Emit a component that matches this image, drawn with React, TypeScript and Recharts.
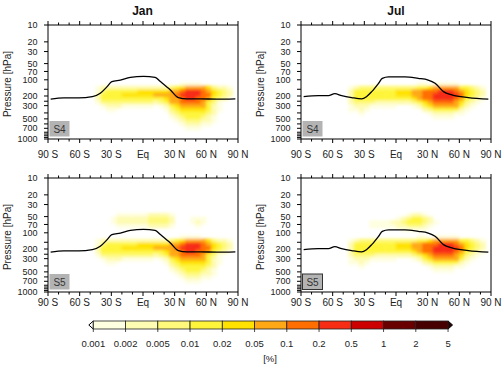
import React from "react";
import { ComposedChart, Scatter, Line, XAxis, YAxis } from "recharts";

const FONT = '"Liberation Sans", Arial, Helvetica, sans-serif';

/* ---------- Data ---------- */

// colour classes in %, lower bound of every class of the shading
const classLabels = ["0.001", "0.002", "0.005", "0.01", "0.02", "0.05", "0.1", "0.2", "0.5", "1", "2", "5"];
// 0 = below 0.001, 1..11 = the bar segments, 12 = above 5
const classColors = [
  "#ffffff", "#fefee0", "#fefbb2", "#fef97a", "#fef53a", "#ffe200",
  "#ffa816", "#ff6e00", "#f72c14", "#cc0000", "#680000", "#460000", "#2a0000",
];

// latitude bins (5 deg) and height rows (km) of the shading grid
const latCentres = [
  -87.5, -82.5, -77.5, -72.5, -67.5, -62.5, -57.5, -52.5, -47.5, -42.5, -37.5, -32.5,
  -27.5, -22.5, -17.5, -12.5, -7.5, -2.5, 2.5, 7.5, 12.5, 17.5, 22.5, 27.5,
  32.5, 37.5, 42.5, 47.5, 52.5, 57.5, 62.5, 67.5, 72.5, 77.5, 82.5, 87.5,
];
const rowHeightsKm = [21, 20, 19, 18, 17, 16, 15, 14, 13, 12, 11, 10, 9, 8, 7, 6, 5, 4, 3];

const latTicks = [-90, -80, -70, -60, -50, -40, -30, -20, -10, 0, 10, 20, 30, 40, 50, 60, 70, 80, 90];
const presTicks = [10, 20, 30, 50, 70, 100, 150, 200, 250, 300, 400, 500, 600, 700, 800, 850, 900, 950, 1000];
const presLabelled = [10, 20, 30, 50, 70, 100, 200, 300, 500, 700, 1000];

// class index per cell, one string per height row (21 km at top), 6 groups of 30 deg
const Z = "000000 000000 000000 000000 000000 000000";

const janMain = [
  "000000 000000 000000 000000 011110 000000",
  "000000 000122 222222 222223 456666 532210",
  "000000 000134 444445 555556 678887 654320",
  "000000 000244 445555 556666 788887 754320",
  "000000 000244 444444 444456 678877 643200",
  "000000 000133 333333 332346 677776 431000",
  "000000 000012 221111 110124 566666 421000",
  "000000 000001 100000 000013 455555 421000",
  "000000 000000 000000 000002 344444 320000",
  "000000 000000 000000 000001 234443 210000",
  "000000 000000 000000 000000 123332 210000",
  "000000 000000 000000 000000 012221 100000",
  "000000 000000 000000 000000 001110 000000",
];

const julMain = [
  "000000 000000 000000 000011 011111 000000",
  "000000 000123 333333 333344 566666 443210",
  "000000 000244 444444 555667 778887 654320",
  "000000 000244 444444 555667 788888 754320",
  "000000 000244 444444 444567 788887 643210",
  "000000 000233 332222 222345 677776 532100",
  "000000 000122 211111 000124 566666 421000",
  "000000 000112 100000 000002 344444 210000",
  "000000 000001 000000 000000 122221 100000",
  "000000 000000 000000 000000 011110 000000",
  Z,
  Z,
  Z,
];

const janS4 = [Z, Z, Z, Z, Z, Z, ...janMain];
const julS4 = [Z, Z, Z, Z, Z, Z, ...julMain];
const janS5 = [
  "000000 000000 011111 122221 000000 000000",
  "000000 000000 122222 233332 000111 000000",
  "000000 000000 122222 233332 000121 000000",
  "000000 000000 011111 122221 000010 000000",
  Z,
  Z,
  ...janMain,
];
const julS5 = [
  "000000 000000 000000 001221 000000 000000",
  "000000 000000 000000 123443 200000 000000",
  "000000 000000 011112 234443 210000 000000",
  "000000 000000 011111 223332 100000 000000",
  "000000 000000 000000 011111 000000 000000",
  Z,
  ...julMain,
];

// tropopause pressure (hPa) along latitude
const tropJan = [
  { lat: -87.5, p: 229 }, { lat: -75, p: 217 }, { lat: -61, p: 217 }, { lat: -48, p: 206 },
  { lat: -40.5, p: 178 }, { lat: -34, p: 134 }, { lat: -29.5, p: 108 }, { lat: -21.5, p: 101 },
  { lat: -12, p: 90 }, { lat: 0.5, p: 86 }, { lat: 11.5, p: 90 }, { lat: 16.5, p: 108 },
  { lat: 26, p: 155 }, { lat: 33.5, p: 214 }, { lat: 41.5, p: 226 }, { lat: 54, p: 226 },
  { lat: 70, p: 229 }, { lat: 87.5, p: 226 },
];
const tropJul = [
  { lat: -87.5, p: 206 }, { lat: -73.5, p: 197 }, { lat: -64, p: 197 }, { lat: -58, p: 181 },
  { lat: -51.5, p: 197 }, { lat: -42, p: 214 }, { lat: -32.5, p: 226 }, { lat: -28, p: 206 },
  { lat: -23, p: 166 }, { lat: -16.5, p: 116 }, { lat: -13, p: 94 }, { lat: -7, p: 88 },
  { lat: 8.5, p: 88 }, { lat: 21, p: 94 }, { lat: 30.5, p: 101 }, { lat: 37, p: 116 },
  { lat: 45, p: 166 }, { lat: 53, p: 191 }, { lat: 68.5, p: 214 }, { lat: 87.5, p: 229 },
];

/* ---------- Vertical coordinate ---------- */

// standard atmosphere height (km) for a pressure level (hPa)
function heightOf(p: number) {
  if (p >= 226.32) return 44.331 * (1 - Math.pow(p / 1013.25, 0.190263));
  if (p >= 54.749) return 11 + 6.3416 * Math.log(226.32 / p);
  return 20 + 216.65 * (Math.pow(p / 54.749, -1 / 34.163) - 1);
}

const Z_BOTTOM = heightOf(1000);
const Z_TOP = heightOf(10);

const CHART_W = 252;
const CHART_H = 160;
const PLOT_W = 190;
const PLOT_H = 114;
const CELL_W = PLOT_W / latCentres.length;
const CELL_H = PLOT_H / (Z_TOP - Z_BOTTOM);

type Cell = { lat: number; z: number; level: number };

function buildCells(rows: string[]): Cell[] {
  const out: Cell[] = [];
  rows.forEach((row, r) => {
    const codes = row.replace(/ /g, "");
    for (let j = 0; j < codes.length; j++) {
      const level = Number(codes[j]);
      if (level > 0) out.push({ lat: latCentres[j], z: rowHeightsKm[r], level });
    }
  });
  return out;
}

/* ---------- Marks and ticks ---------- */

function HeatCell(props: any) {
  const { cx, cy, payload } = props;
  return (
    <rect
      x={cx - CELL_W / 2 - 0.3}
      y={cy - CELL_H / 2 - 0.3}
      width={CELL_W + 0.6}
      height={CELL_H + 0.6}
      fill={classColors[payload.level]}
    />
  );
}

function latLabel(v: number) {
  if (v === 0) return "Eq";
  return v < 0 ? `${-v} S` : `${v} N`;
}

function LatTick(props: any) {
  const { x, y, payload, gap, top } = props;
  const v = payload.value;
  const major = v % 30 === 0;
  const len = major ? 4 : 2.5;
  if (top) {
    return <line x1={x} x2={x} y1={y} y2={y - len} stroke="#000" strokeWidth={1} />;
  }
  return (
    <g>
      <line x1={x} x2={x} y1={y} y2={y + len} stroke="#000" strokeWidth={1} />
      {major && (
        <text x={x} y={y + gap} textAnchor="middle" fontSize={10} fill="#222" fontFamily={FONT}>
          {latLabel(v)}
        </text>
      )}
    </g>
  );
}

function PresTick(props: any) {
  const { x, y, payload } = props;
  const p = presTicks.find((t) => Math.abs(heightOf(t) - payload.value) < 1e-6);
  const labelled = p !== undefined && presLabelled.includes(p);
  return (
    <g>
      <line x1={x - 4} x2={x} y1={y} y2={y} stroke="#000" strokeWidth={1} />
      {labelled && (
        <text x={x - 10.5} y={y} dy="0.35em" textAnchor="end" fontSize={9} fill="#222" fontFamily={FONT}>
          {p}
        </text>
      )}
    </g>
  );
}

/* ---------- Panels ---------- */

type PanelCfg = {
  left: number;
  top: number;
  grid: string[];
  trop: { lat: number; p: number }[];
  labelGap: number;
};

const frameLine = { stroke: "#000", strokeWidth: 1 };

function Panel({ cfg }: { cfg: PanelCfg }) {
  const cells = buildCells(cfg.grid);
  const line = cfg.trop.map((d) => ({ lat: d.lat, z: heightOf(d.p) }));
  return (
    <div style={{ position: "absolute", left: cfg.left, top: cfg.top }}>
      <ComposedChart width={CHART_W} height={CHART_H} margin={{ top: 24, right: 13, bottom: 20, left: 8 }}>
        <XAxis
          dataKey="lat"
          type="number"
          domain={[-90, 90]}
          ticks={latTicks}
          interval={0}
          height={1}
          tickSize={0}
          tickMargin={0}
          axisLine={frameLine}
          tickLine={false}
          allowDataOverflow
          tick={(p: any) => <LatTick {...p} gap={cfg.labelGap} />}
        />
        <XAxis
          xAxisId="top"
          orientation="top"
          dataKey="lat"
          type="number"
          domain={[-90, 90]}
          ticks={latTicks}
          interval={0}
          height={1}
          tickSize={0}
          tickMargin={0}
          axisLine={frameLine}
          tickLine={false}
          allowDataOverflow
          tick={(p: any) => <LatTick {...p} top />}
        />
        <YAxis
          dataKey="z"
          type="number"
          domain={[Z_BOTTOM, Z_TOP]}
          ticks={presTicks.map(heightOf)}
          interval={0}
          width={40}
          tickSize={0}
          tickMargin={0}
          axisLine={frameLine}
          tickLine={false}
          allowDataOverflow
          tick={(p: any) => <PresTick {...p} />}
        />
        <YAxis
          yAxisId="right"
          orientation="right"
          type="number"
          domain={[Z_BOTTOM, Z_TOP]}
          width={1}
          tick={false}
          tickLine={false}
          axisLine={frameLine}
          allowDataOverflow
        />
        <Scatter data={cells} dataKey="z" shape={(p: any) => <HeatCell {...p} />} isAnimationActive={false} />
        <Line
          data={line}
          dataKey="z"
          type="monotone"
          stroke="#000"
          strokeWidth={1.3}
          dot={false}
          activeDot={false}
          isAnimationActive={false}
          zIndex={700}
        />
      </ComposedChart>
    </div>
  );
}

const panels: PanelCfg[] = [
  { left: 0, top: 0, grid: janS4, trop: tropJan, labelGap: 18.5 },
  { left: 253, top: 0, grid: julS4, trop: tropJul, labelGap: 18.5 },
  { left: 0, top: 153, grid: janS5, trop: tropJan, labelGap: 13.5 },
  { left: 253, top: 153, grid: julS5, trop: tropJul, labelGap: 13.5 },
];

const tags = [
  { x: 49.5, y: 121, text: "S4", border: false },
  { x: 302.5, y: 121, text: "S4", border: false },
  { x: 49.5, y: 274, text: "S5", border: false },
  { x: 302.5, y: 274, text: "S5", border: true },
];

const yTitles = [
  { x: 10.5, y: 84 },
  { x: 263.5, y: 84 },
  { x: 10.5, y: 237 },
  { x: 263.5, y: 237 },
];

/* ---------- Titles, tags and colour bar ---------- */

function Overlay() {
  const barX = 93.3;
  const segW = 32.25;
  const barY = 321;
  const barH = 8;
  const nSeg = classLabels.length - 1;
  const barEnd = barX + segW * nSeg;
  return (
    <svg width={504} height={374} style={{ position: "absolute", left: 0, top: 0 }} fontFamily={FONT}>
      <defs>
        <filter id="soften" x="-20%" y="-40%" width="140%" height="180%">
          <feGaussianBlur stdDeviation="1.6" />
        </filter>
      </defs>

      <text x={142.5} y={14.5} textAnchor="middle" fontSize={12} fontWeight="bold" fill="#111">Jan</text>
      <text x={396} y={14.5} textAnchor="middle" fontSize={12} fontWeight="bold" fill="#111">Jul</text>

      {yTitles.map((t, i) => (
        <text
          key={i}
          x={t.x}
          y={t.y}
          transform={`rotate(-90 ${t.x} ${t.y})`}
          textAnchor="middle"
          fontSize={10}
          fill="#222"
        >
          Pressure [hPa]
        </text>
      ))}

      {tags.map((t, i) => (
        <g key={i}>
          <rect
            x={t.x}
            y={t.y}
            width={20}
            height={15.5}
            fill="#b3b3b3"
            stroke={t.border ? "#333" : "none"}
            strokeWidth={1}
          />
          <text x={t.x + 10} y={t.y + 11.5} textAnchor="middle" fontSize={10} fill="#333">{t.text}</text>
        </g>
      ))}

      {/* colour bar */}
      <polygon
        points={`${barX},${barY} ${barX - 4.5},${barY + barH / 2} ${barX},${barY + barH}`}
        fill={classColors[0]}
        stroke="#000"
        strokeWidth={1}
      />
      <polygon
        points={`${barEnd},${barY} ${barEnd + 4.5},${barY + barH / 2} ${barEnd},${barY + barH}`}
        fill={classColors[12]}
        stroke="#000"
        strokeWidth={1}
      />
      {classLabels.slice(0, nSeg).map((_, i) => (
        <rect
          key={i}
          x={barX + i * segW}
          y={barY}
          width={segW}
          height={barH}
          fill={classColors[i + 1]}
          stroke="#222"
          strokeWidth={0.8}
        />
      ))}
      {classLabels.map((label, i) => (
        <g key={label}>
          <line x1={barX + i * segW} x2={barX + i * segW} y1={barY + barH} y2={barY + barH + 3} stroke="#222" strokeWidth={0.8} />
          <text x={barX + i * segW} y={346.5} textAnchor="middle" fontSize={9.5} fill="#222">{label}</text>
        </g>
      ))}
      <text x={270} y={361.5} textAnchor="middle" fontSize={9.5} fill="#222">[%]</text>
    </svg>
  );
}

export default function App() {
  return (
    <div style={{ position: "absolute", left: 0, top: 0, width: 504, height: 374, background: "#fff", overflow: "hidden" }}>
      <style>{`.recharts-scatter { filter: url(#soften); }`}</style>
      {panels.map((cfg, i) => (
        <Panel key={i} cfg={cfg} />
      ))}
      <Overlay />
    </div>
  );
}
